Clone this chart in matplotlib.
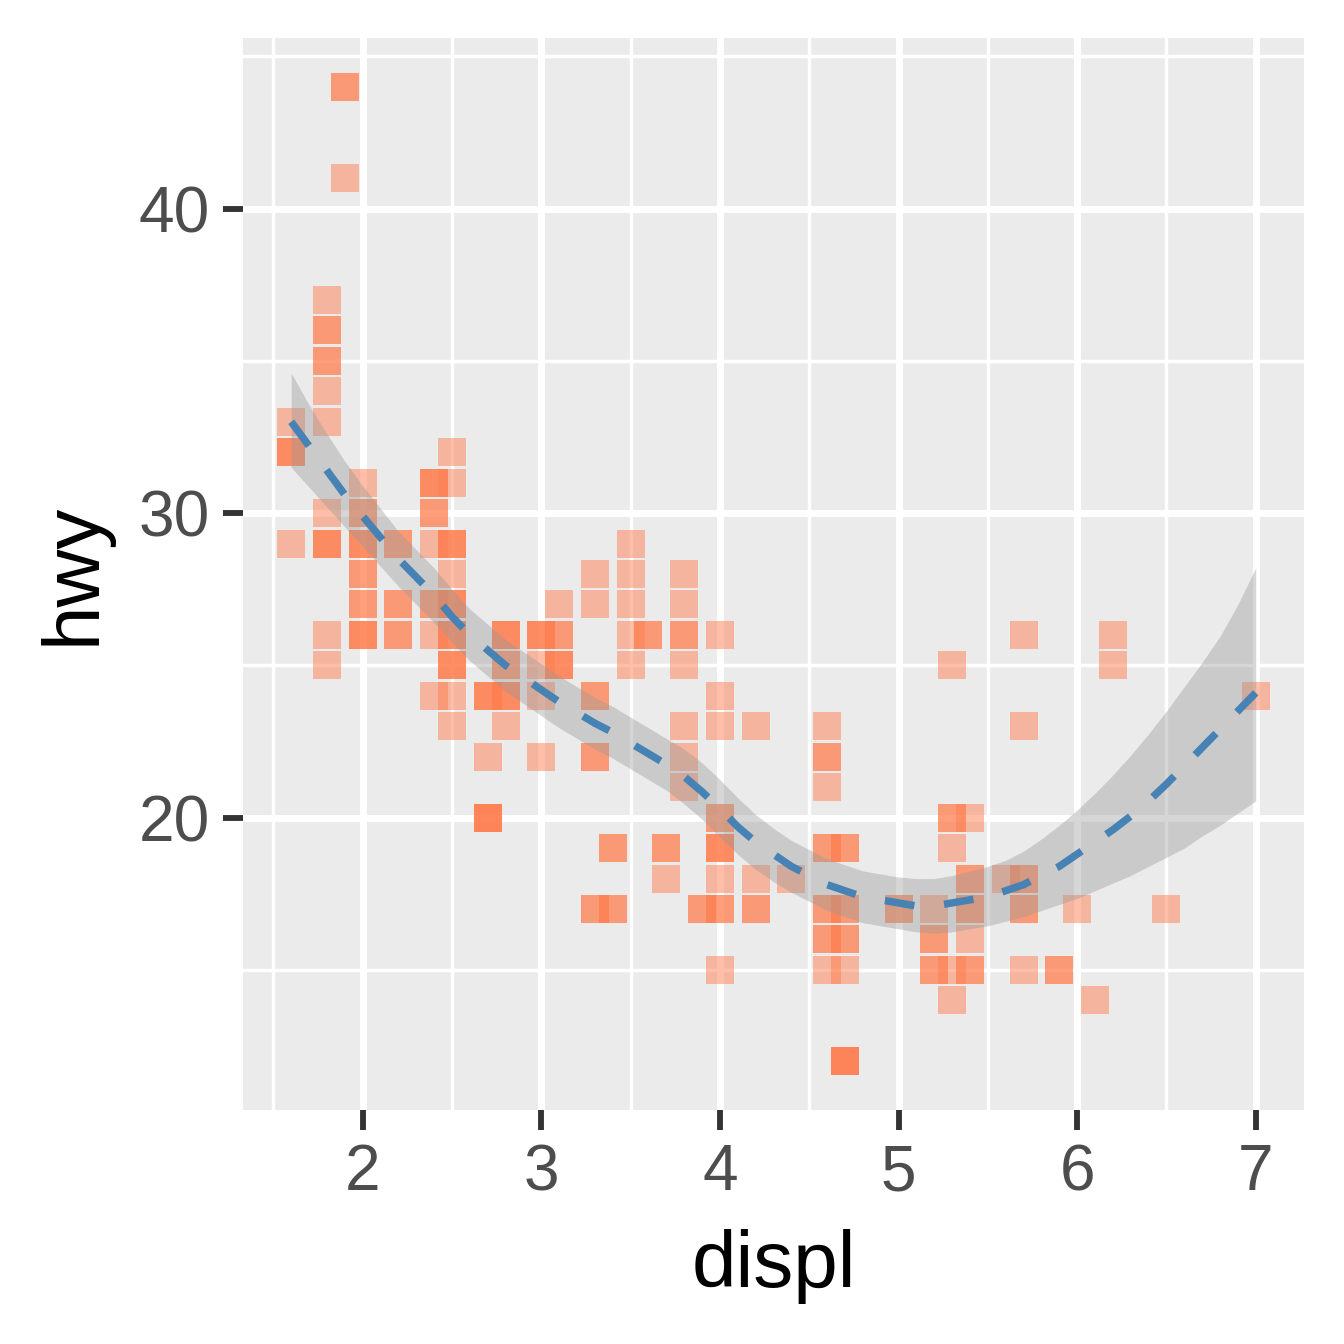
import numpy as np
import matplotlib
matplotlib.use('Agg')
import matplotlib.pyplot as plt

plt.rcParams['font.family'] = ['Liberation Sans', 'DejaVu Sans']

# points: displ, hwy and how many cars sit on that spot
displ = [1.6, 1.6, 1.6,
         1.8, 1.8, 1.8, 1.8, 1.8, 1.8, 1.8, 1.8, 1.8,
         1.9, 1.9,
         2.0, 2.0, 2.0, 2.0, 2.0, 2.0,
         2.2, 2.2, 2.2,
         2.4, 2.4, 2.4, 2.4, 2.4, 2.4,
         2.5, 2.5, 2.5, 2.5, 2.5, 2.5, 2.5, 2.5, 2.5,
         2.7, 2.7, 2.7,
         2.8, 2.8, 2.8, 2.8,
         3.0, 3.0, 3.0, 3.0,
         3.1, 3.1, 3.1,
         3.3, 3.3, 3.3, 3.3, 3.3,
         3.4, 3.4,
         3.5, 3.5, 3.5, 3.5, 3.5,
         3.6,
         3.7, 3.7,
         3.8, 3.8, 3.8, 3.8, 3.8, 3.8, 3.8,
         3.9,
         4.0, 4.0, 4.0, 4.0, 4.0, 4.0, 4.0, 4.0,
         4.2, 4.2, 4.2,
         4.4,
         4.6, 4.6, 4.6, 4.6, 4.6, 4.6, 4.6,
         4.7, 4.7, 4.7, 4.7, 4.7,
         5.0,
         5.2, 5.2, 5.2,
         5.3, 5.3, 5.3, 5.3, 5.3,
         5.4, 5.4, 5.4, 5.4, 5.4,
         5.6,
         5.7, 5.7, 5.7, 5.7, 5.7,
         5.9, 6.0, 6.1, 6.2, 6.2, 6.5, 7.0]
hwy = [33, 32, 29,
       37, 36, 35, 34, 33, 30, 29, 26, 25,
       44, 41,
       31, 30, 29, 28, 27, 26,
       29, 27, 26,
       31, 30, 29, 27, 26, 24,
       32, 31, 29, 28, 27, 26, 25, 24, 23,
       24, 22, 20,
       26, 25, 24, 23,
       26, 25, 24, 22,
       27, 26, 25,
       28, 27, 24, 22, 17,
       19, 17,
       29, 28, 27, 26, 25,
       26,
       19, 18,
       28, 27, 26, 25, 23, 22, 21,
       17,
       26, 24, 23, 20, 19, 18, 17, 15,
       23, 18, 17,
       18,
       23, 22, 21, 19, 17, 16, 15,
       19, 17, 16, 15, 12,
       17,
       17, 16, 15,
       25, 20, 19, 15, 14,
       20, 18, 17, 16, 15,
       18,
       26, 23, 18, 17, 15,
       15, 17, 14, 26, 25, 17, 24]
count = [1, 3, 1,
         1, 2, 2, 1, 1, 1, 3, 1, 1,
         2, 1,
         1, 2, 3, 2, 2, 3,
         2, 2, 2,
         3, 2, 1, 2, 1, 1,
         1, 1, 3, 1, 3, 3, 3, 1, 1,
         3, 1, 4,
         3, 2, 3, 1,
         3, 1, 1, 1,
         1, 2, 3,
         1, 1, 2, 2, 2,
         2, 2,
         1, 1, 1, 1, 1,
         2,
         2, 1,
         1, 1, 2, 1, 1, 1, 1,
         2,
         1, 1, 1, 2, 3, 1, 2, 1,
         1, 1, 2,
         1,
         1, 2, 1, 2, 2, 2, 1,
         2, 2, 2, 1, 4,
         2,
         1, 2, 2,
         1, 2, 1, 1, 1,
         1, 2, 2, 1, 2,
         1,
         1, 1, 2, 2, 1,
         2, 1, 1, 1, 1, 1, 1]

# loess smooth, every 0.1 of displ from 1.6 to 7.0
smooth_x = [1.6, 1.7, 1.8, 1.9, 2.0, 2.1, 2.2, 2.3, 2.4, 2.5,
            2.6, 2.7, 2.8, 2.9, 3.0, 3.1, 3.2, 3.3, 3.4, 3.5,
            3.6, 3.7, 3.8, 3.9, 4.0, 4.1, 4.2, 4.3, 4.4, 4.5,
            4.6, 4.7, 4.8, 4.9, 5.0, 5.1, 5.2, 5.3, 5.4, 5.5,
            5.6, 5.7, 5.8, 5.9, 6.0, 6.1, 6.2, 6.3, 6.4, 6.5,
            6.6, 6.7, 6.8, 6.9, 7.0]
smooth_y = [33.0, 32.2, 31.4, 30.6, 29.9, 29.2, 28.5, 27.9, 27.3, 26.6,
            26.0, 25.5, 25.0, 24.6, 24.2, 23.8, 23.45, 23.1, 22.8, 22.45,
            22.1, 21.75, 21.35, 20.85, 20.3, 19.7, 19.2, 18.8, 18.4, 18.1,
            17.8, 17.6, 17.4, 17.3, 17.2, 17.1, 17.1, 17.2, 17.3, 17.4,
            17.6, 17.8, 18.1, 18.4, 18.8, 19.2, 19.6, 20.05, 20.55, 21.1,
            21.7, 22.3, 22.9, 23.5, 24.1]
smooth_lo = [31.5, 30.85, 30.2, 29.55, 28.9, 28.25, 27.6, 27.0, 26.4, 25.75,
             25.15, 24.65, 24.15, 23.75, 23.35, 22.95, 22.6, 22.25, 21.95, 21.6,
             21.25, 20.9, 20.45, 19.95, 19.35, 18.8, 18.3, 17.9, 17.55, 17.25,
             16.95, 16.75, 16.55, 16.45, 16.35, 16.25, 16.2, 16.25, 16.35, 16.45,
             16.6, 16.75, 16.95, 17.15, 17.35, 17.6, 17.85, 18.1, 18.4, 18.7,
             19.0, 19.4, 19.75, 20.15, 20.55]
smooth_hi = [34.6, 33.55, 32.6, 31.7, 30.9, 30.15, 29.4, 28.8, 28.2, 27.5,
             26.85, 26.35, 25.85, 25.45, 25.05, 24.65, 24.3, 23.95, 23.65, 23.3,
             22.95, 22.6, 22.25, 21.8, 21.25, 20.65, 20.1, 19.65, 19.25, 18.95,
             18.65, 18.45, 18.25, 18.15, 18.05, 18.0, 18.0, 18.1, 18.25, 18.4,
             18.6, 18.9, 19.3, 19.75, 20.25, 20.8, 21.4, 22.05, 22.75, 23.5,
             24.3, 25.1, 25.95, 27.0, 28.2]

px = np.repeat(displ, count)
py = np.repeat(hwy, count)

fig = plt.figure(figsize=(7, 7), dpi=192)
ax = fig.add_axes([0.1808, 0.1741, 0.9702 - 0.1808, 0.9717 - 0.1741])
ax.set_facecolor('#EBEBEB')

ax.scatter(px, py, marker='s', s=112, color='coral', alpha=0.5,
           linewidths=0, zorder=3)
ax.fill_between(smooth_x, smooth_lo, smooth_hi, color='#999999', alpha=0.4,
                linewidth=0, zorder=4)
ax.plot(smooth_x, smooth_y, color='steelblue', lw=2.8, dashes=(4, 4),
        dash_capstyle='butt', zorder=5)

ax.set_xlim(1.33, 7.27)
ax.set_ylim(10.4, 45.6)
ax.set_xticks([2, 3, 4, 5, 6, 7])
ax.set_yticks([20, 30, 40])
ax.set_xticks(np.arange(1.5, 7.0, 1.0), minor=True)
ax.set_yticks([15, 25, 35, 45], minor=True)
ax.grid(which='major', color='white', lw=2.6)
ax.grid(which='minor', color='white', lw=1.3)
ax.set_axisbelow(True)
for s in ax.spines.values():
    s.set_visible(False)

ax.tick_params(which='major', length=7.5, width=2.2, color='#333333',
               labelsize=24, labelcolor='#4D4D4D', pad=5)
ax.tick_params(which='minor', length=0)

ax.set_xlabel('displ', fontsize=30, labelpad=9.5)
ax.set_ylabel('hwy', fontsize=30, labelpad=10)

fig.savefig('out.png', dpi=192)
